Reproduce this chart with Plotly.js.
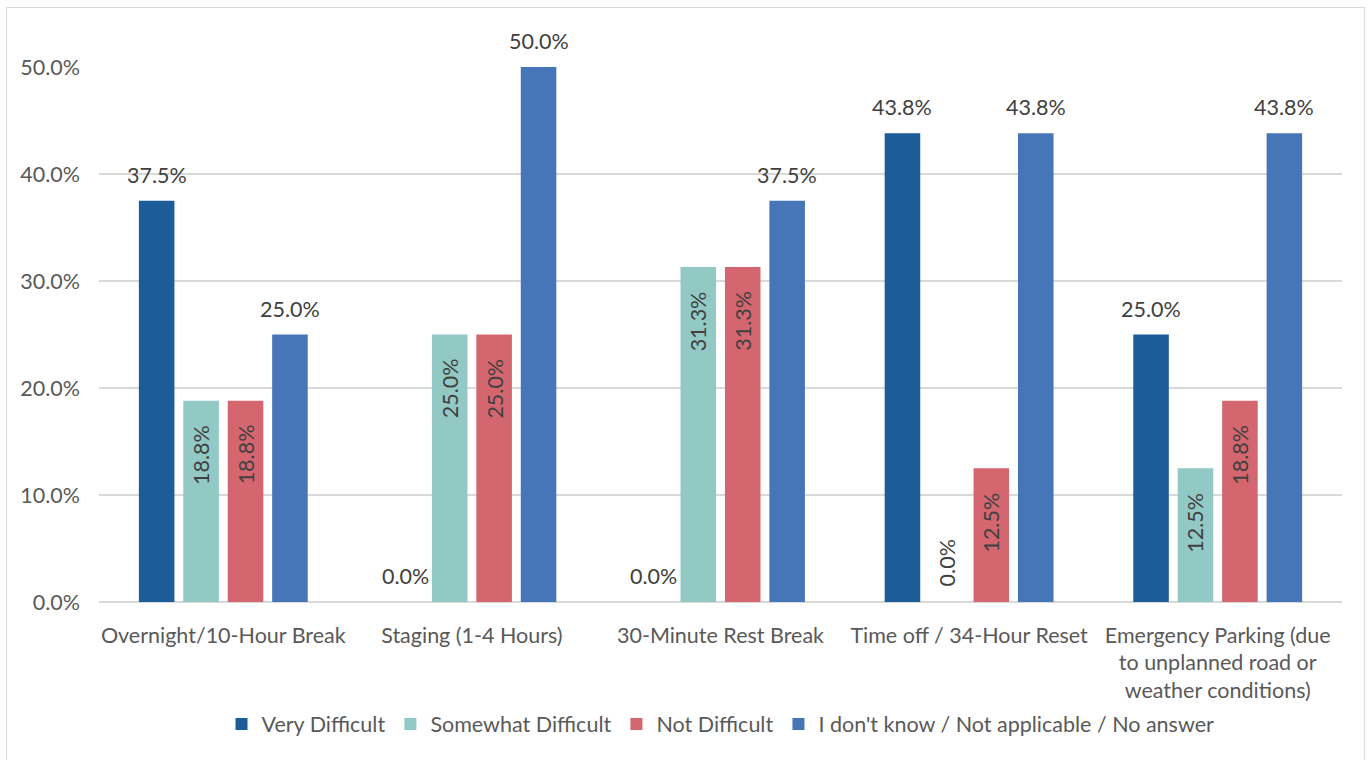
<!DOCTYPE html>
<html>
<head>
<meta charset="utf-8">
<script src="https://cdn.plot.ly/plotly-3.0.1.min.js"></script>
<style>
html,body{margin:0;padding:0;background:#fff;}
#wrap{position:relative;width:1372px;height:760px;}
#frame{position:absolute;left:6px;top:7px;width:1359px;height:760px;border:1px solid #d9d9d9;box-sizing:border-box;pointer-events:none;}
#chart{position:absolute;left:0;top:0;width:1372px;height:760px;}
</style>
</head>
<body>
<div id="wrap"><div id="chart"></div><div id="frame"></div></div>
<script>
const categories = [
  "Overnight/10-Hour Break",
  "Staging (1-4 Hours)",
  "30-Minute Rest Break",
  "Time off / 34-Hour Reset",
  "Emergency Parking (due<br>to unplanned road or<br>weather conditions)"
];
const seriesNames = ["Very Difficult", "Somewhat Difficult", "Not Difficult", "I don't know / Not applicable / No answer"];
const veryDifficult = [0.375, 0.0, 0.0, 0.438, 0.25];
const somewhatDifficult = [0.188, 0.25, 0.313, 0.0, 0.125];
const notDifficult = [0.188, 0.25, 0.313, 0.125, 0.188];
const dontKnow = [0.25, 0.5, 0.375, 0.438, 0.438];
const colors = ["#1B5C99", "#92C9C4", "#D4666F", "#4676B8"];
const labelRotated = [false, true, true, false];

const fontFam = "Lato, 'Open Sans', sans-serif";
const fs = 21.5;
const labelColor = "#404040";
const axisColor = "#595959";

const W = 1372, H = 760;
const margin = {l: 99, r: 30, t: 67, b: 158};
const bargap = 0.285, bargroupgap = 0.2;

const allSeries = [veryDifficult, somewhatDifficult, notDifficult, dontKnow];

const traces = allSeries.map((vals, i) => ({
  type: "bar",
  name: seriesNames[i],
  x: categories,
  y: vals,
  marker: {color: colors[i]},
  hoverinfo: "skip"
}));

// Data labels derived from the series arrays
const plotW = W - margin.l - margin.r;
const catW = plotW / categories.length;
const slotW = catW * (1 - bargap) / allSeries.length;
const annotations = [];
allSeries.forEach((vals, i) => {
  const dx = (i - (allSeries.length - 1) / 2) * slotW;
  vals.forEach((v, j) => {
    const txt = (v * 100).toFixed(1) + "%";
    const base = {
      x: categories[j], y: v, xref: "x", yref: "y",
      text: txt, showarrow: false, xshift: dx,
      font: {family: fontFam, size: fs, color: labelColor}
    };
    if (!labelRotated[i]) {
      annotations.push(Object.assign(base, {yanchor: "bottom", xanchor: "center", yshift: 11}));
    } else if (v > 0) {
      annotations.push(Object.assign(base, {textangle: -90, yanchor: "top", xanchor: "center", yshift: -22}));
    } else {
      annotations.push(Object.assign(base, {textangle: -90, yanchor: "bottom", xanchor: "center", yshift: 14}));
    }
  });
});

const layout = {
  width: W, height: H,
  margin: margin,
  paper_bgcolor: "#fff", plot_bgcolor: "#fff",
  barmode: "group",
  bargap: bargap,
  bargroupgap: bargroupgap,
  font: {family: fontFam, size: fs, color: axisColor},
  showlegend: true,
  legend: {orientation: "h", x: 0.5, xanchor: "center", y: -0.228, yanchor: "middle",
    font: {family: fontFam, size: fs, color: axisColor}, itemwidth: 30, tracegroupgap: 0},
  annotations: annotations,
  xaxis: {
    tickfont: {family: fontFam, size: fs, color: axisColor},
    showgrid: false, zeroline: false, showline: false, ticks: "",
    ticklabelstandoff: 18, automargin: false
  },
  yaxis: {
    range: [0, 0.5], dtick: 0.1, tickformat: ".1%",
    tickfont: {family: fontFam, size: fs, color: axisColor},
    showgrid: true, gridcolor: "#d9d9d9", gridwidth: 1.5,
    zeroline: true, zerolinecolor: "#d9d9d9", zerolinewidth: 2,
    showline: false, ticks: "", ticklabelstandoff: 18, automargin: false
  }
};

Plotly.newPlot("chart", traces, layout, {displayModeBar: false, staticPlot: true});
</script>
</body>
</html>
